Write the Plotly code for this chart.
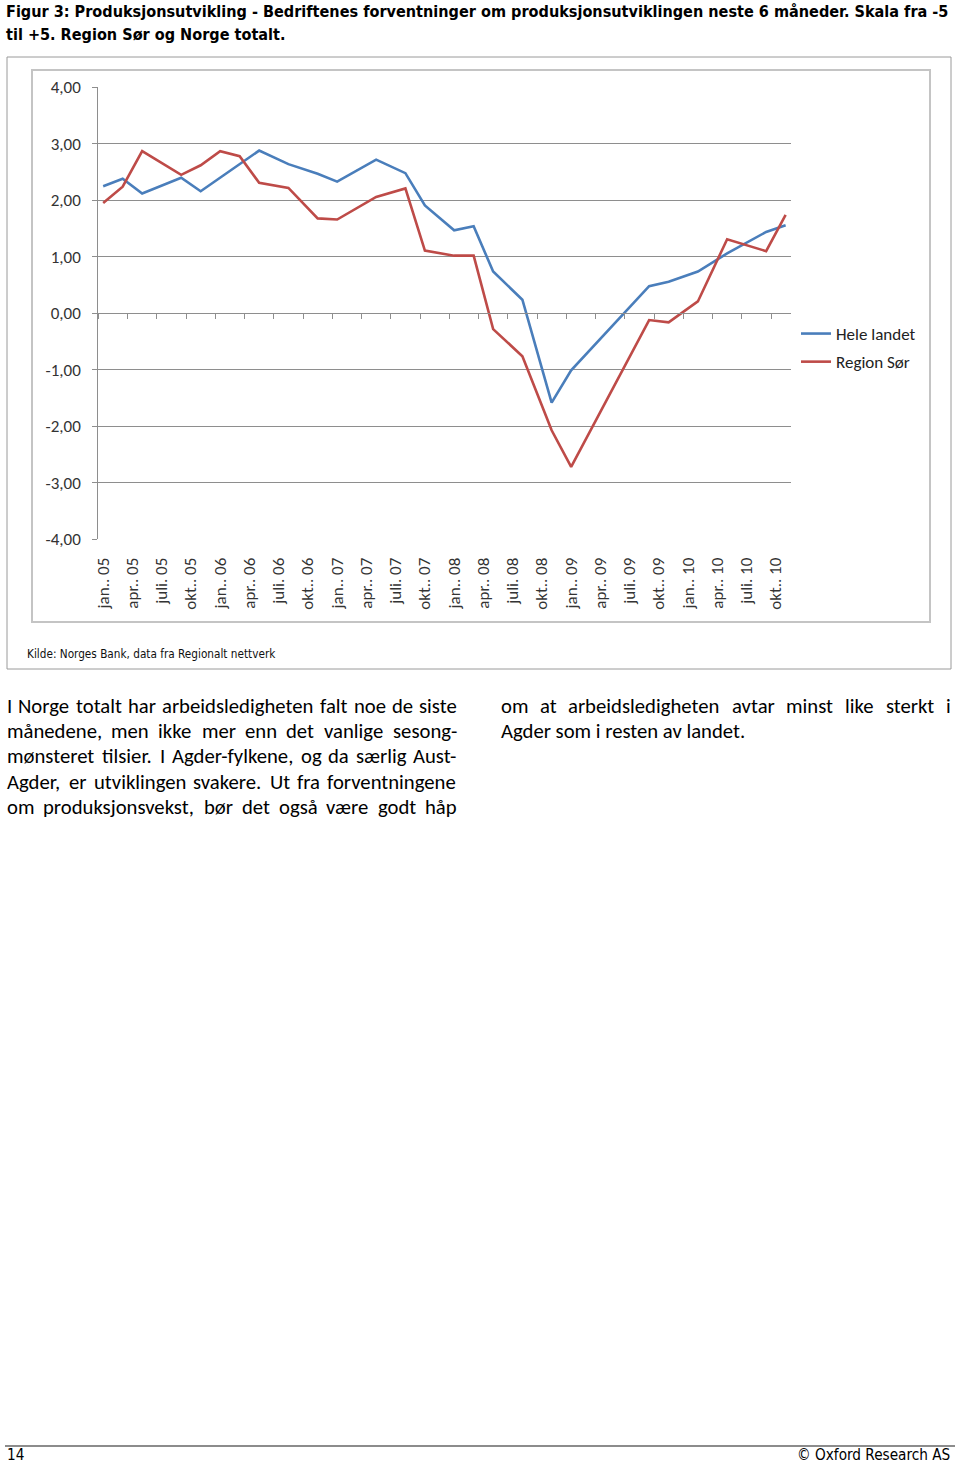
import plotly.graph_objects as go

# ---------------- data ----------------
dates = ["2005-01", "2005-03", "2005-05", "2005-09", "2005-11",
         "2006-01", "2006-03", "2006-05", "2006-08", "2006-11",
         "2007-01", "2007-05", "2007-08", "2007-10",
         "2008-01", "2008-03", "2008-05", "2008-08", "2008-11",
         "2009-01", "2009-09", "2009-11",
         "2010-02", "2010-05", "2010-09", "2010-11"]

hele_landet = [2.25, 2.38, 2.12, 2.40, 2.16,
               2.40, 2.63, 2.88, 2.64, 2.47,
               2.33, 2.72, 2.48, 1.91,
               1.47, 1.54, 0.74, 0.24, -1.58,
               -1.01, 0.48, 0.56,
               0.74, 1.06, 1.44, 1.56]

region_sor = [1.95, 2.24, 2.87, 2.45, 2.62,
              2.87, 2.78, 2.31, 2.22, 1.68,
              1.66, 2.06, 2.21, 1.11,
              1.02, 1.02, -0.28, -0.76, -2.07,
              -2.72, -0.12, -0.16,
              0.21, 1.31, 1.10, 1.74]

tick_labels = ["jan.. 05", "apr.. 05", "juli. 05", "okt.. 05",
               "jan.. 06", "apr.. 06", "juli. 06", "okt.. 06",
               "jan.. 07", "apr.. 07", "juli. 07", "okt.. 07",
               "jan.. 08", "apr.. 08", "juli. 08", "okt.. 08",
               "jan.. 09", "apr.. 09", "juli. 09", "okt.. 09",
               "jan.. 10", "apr.. 10", "juli. 10", "okt.. 10"]

y_ticks = [4, 3, 2, 1, 0, -1, -2, -3, -4]

title_lines = ["Figur 3: Produksjonsutvikling - Bedriftenes forventninger om produksjonsutviklingen neste 6 måneder. Skala fra -5",
               "til +5. Region Sør og Norge totalt."]
source_text = "Kilde: Norges Bank, data fra Regionalt nettverk"
left_lines = ["I Norge totalt har arbeidsledigheten falt noe de siste",
              "månedene, men ikke mer enn det vanlige sesong-",
              "mønsteret tilsier. I Agder-fylkene, og da særlig Aust-",
              "Agder, er utviklingen svakere. Ut fra forventningene",
              "om produksjonsvekst, bør det også være godt håp"]
right_lines = ["om at arbeidsledigheten avtar minst like sterkt i",
               "Agder som i resten av landet."]

# ---------------- helpers ----------------
W, H = 960, 1466


def month_index(s):
    y, m = s.split("-")
    return (int(y) - 2005) * 12 + int(m) - 1


def px_x(v):
    return v / W


def px_y(v):
    return 1 - v / H


# approximate advance widths (per 1000 em) for the Calibri-metric body font
CW = dict(zip("abcdefghijklmnopqrstuvwxyz",
              [479, 525, 423, 525, 498, 305, 471, 525, 229, 239, 455, 229, 799,
               525, 527, 525, 525, 349, 391, 335, 525, 452, 715, 433, 453, 395]))
CW.update(dict(zip("ABCDEFGHIJKLMNOPQRSTUVWXYZ",
                   [579, 544, 533, 615, 488, 459, 631, 623, 252, 319, 520, 420, 855,
                    646, 662, 517, 673, 543, 459, 487, 642, 567, 890, 519, 487, 468])))
CW.update({"æ": 773, "ø": 527, "å": 479, " ": 226, ",": 250, ".": 252, "-": 306})


def word_width(w, size):
    return sum(CW.get(c, 500) for c in w) * size / 1000.0


x = [month_index(d) for d in dates]
label_pos = [3 * i for i in range(len(tick_labels))]
boundary_ticks = [3 * i - 0.5 for i in range(len(tick_labels))]
y_tick_text = [("%.2f" % v).replace(".", ",") for v in y_ticks]

BODY = "Carlito, Calibri, Lato, sans-serif"
NARROW = "'Liberation Sans Narrow', 'Arial Narrow', 'DejaVu Sans Condensed', sans-serif"
GRID = "#8e8e8e"

y_dom = [px_y(539.3), px_y(87.3)]
x_dom = [px_x(98.3), px_x(790.5)]
zero_pos = y_dom[0] + (y_dom[1] - y_dom[0]) * 0.5

fig = go.Figure()
fig.add_trace(go.Scatter(x=x, y=hele_landet, mode="lines", name="Hele landet",
                         line=dict(color="#4A7EBB", width=2.6), legendgroup="a"))
fig.add_trace(go.Scatter(x=x, y=region_sor, mode="lines", name="Region Sør",
                         line=dict(color="#BE4B48", width=2.6), legendgroup="b"))
# empty helper trace for the category axis line drawn at zero
fig.add_trace(go.Scatter(x=[], y=[], xaxis="x2", yaxis="y", showlegend=False,
                         hoverinfo="skip"))

fig.update_layout(
    width=W, height=H, autosize=False,
    margin=dict(l=0, r=0, t=0, b=0, pad=0, autoexpand=False),
    paper_bgcolor="white", plot_bgcolor="white",
    font=dict(family=BODY, size=17, color="#222"),
    xaxis=dict(domain=x_dom, range=[-0.5, 70.5], tickmode="array",
               tickvals=label_pos, ticktext=tick_labels, tickangle=-90,
               ticks="", showgrid=False, zeroline=False, showline=False,
               tickfont=dict(family=BODY, size=17, color="#333"),
               ticklabelstandoff=14, fixedrange=True, automargin=False),
    xaxis2=dict(overlaying="x", matches="x", anchor="free", position=zero_pos,
                domain=x_dom, range=[-0.5, 70.5], tickmode="array",
                tickvals=boundary_ticks, showticklabels=False,
                ticks="outside", ticklen=5, tickcolor=GRID, tickwidth=1.2,
                showline=True, linecolor=GRID, linewidth=1.2,
                showgrid=False, zeroline=False, automargin=False),
    yaxis=dict(domain=y_dom, range=[-4, 4], tickmode="array", tickvals=y_ticks,
               ticktext=y_tick_text, showgrid=True, gridcolor=GRID, gridwidth=1.2,
               zeroline=False, showline=True, linecolor=GRID, linewidth=1.2,
               ticks="outside", ticklen=5, tickcolor=GRID,
               tickfont=dict(family=BODY, size=17, color="#333"),
               ticklabelstandoff=8, fixedrange=True, automargin=False),
    legend=dict(x=px_x(796), y=px_y(316), xanchor="left", yanchor="top",
                font=dict(family=BODY, size=17, color="#222"),
                traceorder="grouped", tracegroupgap=3,
                bgcolor="rgba(0,0,0,0)", itemwidth=30),
    showlegend=True,
)

shapes = [
    dict(type="rect", xref="paper", yref="paper", x0=px_x(7), x1=px_x(951),
         y0=px_y(669), y1=px_y(57), line=dict(color="#9a9a9a", width=1)),
    dict(type="rect", xref="paper", yref="paper", x0=px_x(32), x1=px_x(930),
         y0=px_y(622), y1=px_y(70), line=dict(color="#c4c4c4", width=2)),
    dict(type="line", xref="paper", yref="paper", x0=px_x(5), x1=px_x(955),
         y0=px_y(1446), y1=px_y(1446), line=dict(color="#666", width=1.5)),
]
fig.update_layout(shapes=shapes)

ann = []


def text(s, xpx, ypx, size, family, anchor="left", color="#000"):
    ann.append(dict(text=s, x=px_x(xpx), y=px_y(ypx), xref="paper", yref="paper",
                    xanchor=anchor, yanchor="middle", showarrow=False,
                    borderpad=0, font=dict(family=family, size=size, color=color)))


def justified(line, x0, x1, ypx, size):
    words = line.split(" ")
    widths = [word_width(w, size) for w in words]
    gap = (x1 - x0 - sum(widths)) / (len(words) - 1)
    pos = x0
    for w, ww in zip(words, widths):
        text(w, pos, ypx, size, BODY)
        pos += ww + gap


text("<b>" + title_lines[0] + "</b>", 5, 12, 16.1, NARROW)
text("<b>" + title_lines[1] + "</b>", 5, 35, 16.1, NARROW)
text(source_text, 26, 654, 11.7, NARROW, color="#111")

BS = 20.7
for i, s in enumerate(left_lines):
    justified(s, 6, 456, 706 + 25.2 * i, BS)
justified(right_lines[0], 500, 950, 706, BS)
text(right_lines[1], 500, 706 + 25.2, BS, BODY)

text("14", 6, 1455, 15.2, NARROW)
text("© Oxford Research AS", 951, 1455, 15.2, NARROW, anchor="right")

fig.update_layout(annotations=ann)
fig.write_html("out.html")
